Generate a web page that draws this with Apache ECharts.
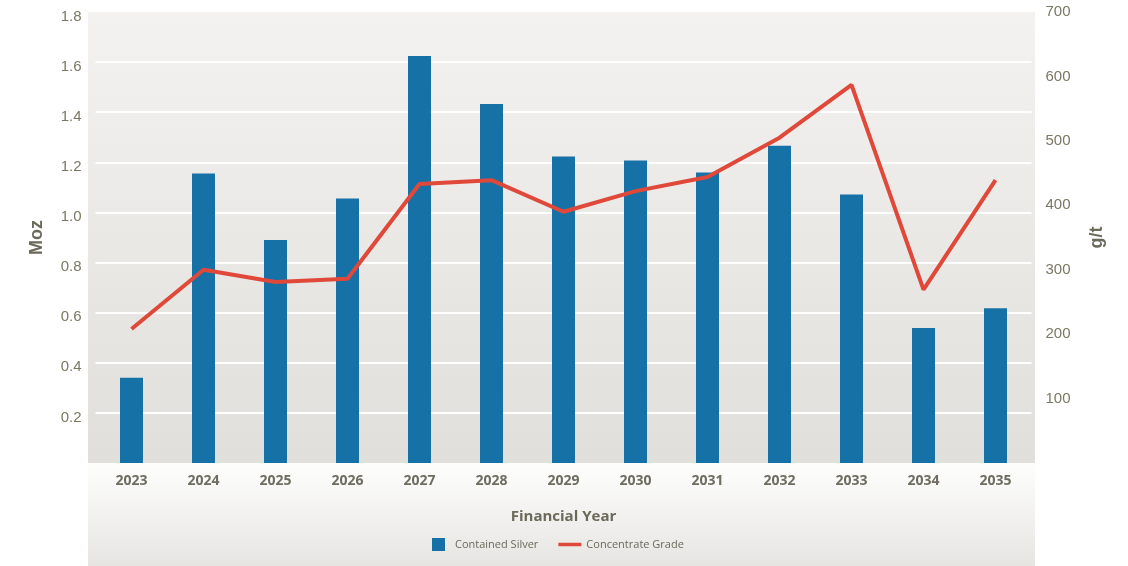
<!DOCTYPE html>
<html>
<head>
<meta charset="utf-8">
<script src="https://cdn.jsdelivr.net/npm/echarts@6/dist/echarts.min.js"></script>
<style>html,body{margin:0;padding:0;background:#fff}#c{width:1128px;height:566px}</style>
</head>
<body>
<div id="c"></div>
<script>
const years = ['2023','2024','2025','2026','2027','2028','2029','2030','2031','2032','2033','2034','2035'];
const containedSilver = [0.34, 1.155, 0.89, 1.056, 1.624, 1.433, 1.223, 1.207, 1.159, 1.266, 1.072, 0.539, 0.618];
const concentrateGrade = [208, 300, 281, 286, 433, 439, 390, 422, 444, 505, 587, 269, 439];
const leftTicks = {min: 0, max: 1.8, interval: 0.2};
const rightTicks = {min: 0, max: 700, interval: 100};

const chart = echarts.init(document.getElementById('c'));
const txt = '#6b6a5a';
chart.setOption({
  animation: false,
  graphic: {
    elements: [
      {type: 'rect', z: -10, shape: {x: 88, y: 12, width: 947, height: 451},
       style: {fill: new echarts.graphic.LinearGradient(0, 0, 0, 1, [{offset: 0, color: '#f3f2f0'}, {offset: 1, color: '#e0dfdb'}])}},
      {type: 'rect', z: -10, shape: {x: 88, y: 463, width: 947, height: 103},
       style: {fill: new echarts.graphic.LinearGradient(0, 0, 0, 1, [{offset: 0, color: '#fefefd'}, {offset: 1, color: '#e6e5e2'}])}}
    ]
  },
  grid: {left: 95.5, right: 96.5, top: 12, bottom: 103},
  legend: {
    top: 533, left: 427, itemWidth: 23, itemHeight: 13, itemGap: 20,
    textStyle: {fontFamily: 'Open Sans', fontSize: 11, color: txt},
    data: [
      {name: 'Contained Silver', icon: 'path://M0,0h10v10h-10z'},
      {name: 'Concentrate Grade', icon: 'path://M0,0h23v3.5h-23z'}
    ]
  },
  xAxis: {
    type: 'category', data: years,
    axisLine: {show: false}, axisTick: {show: false},
    axisLabel: {margin: 11, fontFamily: 'Open Sans', fontWeight: 'bold', fontSize: 14, color: '#6e6d60'},
    name: 'Financial Year', nameLocation: 'middle', nameGap: 46,
    nameTextStyle: {fontFamily: 'Open Sans', fontWeight: 'bold', fontSize: 15, color: txt}
  },
  yAxis: [
    {
      type: 'value', min: leftTicks.min, max: leftTicks.max, interval: leftTicks.interval,
      axisLine: {show: false}, axisTick: {show: false},
      axisLabel: {margin: 14, fontFamily: 'Liberation Sans', fontSize: 15, color: '#7a7862',
        verticalAlign: 'top', lineHeight: 9,
        formatter: v => v === 0 ? '' : v.toFixed(1)},
      splitLine: {show: true, showMinLine: false, showMaxLine: false, lineStyle: {color: '#ffffff', width: 2}},
      name: 'Moz', nameLocation: 'middle', nameGap: 49, nameRotate: 90,
      nameTextStyle: {fontFamily: 'Liberation Sans', fontWeight: 'bold', fontSize: 18, color: txt}
    },
    {
      type: 'value', min: rightTicks.min, max: rightTicks.max, interval: rightTicks.interval,
      axisLine: {show: false}, axisTick: {show: false},
      axisLabel: {margin: 14, fontFamily: 'Liberation Sans', fontSize: 15, color: '#7a7862',
        formatter: v => v === 0 ? '' : String(v)},
      splitLine: {show: false},
      name: 'g/t', nameLocation: 'middle', nameGap: 57, nameRotate: 90,
      nameTextStyle: {fontFamily: 'Liberation Sans', fontWeight: 'bold', fontSize: 18, color: txt}
    }
  ],
  series: [
    {name: 'Contained Silver', type: 'bar', data: containedSilver, barWidth: 23,
     itemStyle: {color: '#1671a7'}},
    {name: 'Concentrate Grade', type: 'line', yAxisIndex: 1, data: concentrateGrade,
     symbol: 'none', lineStyle: {color: '#e0483a', width: 4}, itemStyle: {color: '#e0483a'}}
  ]
});
</script>
</body>
</html>
